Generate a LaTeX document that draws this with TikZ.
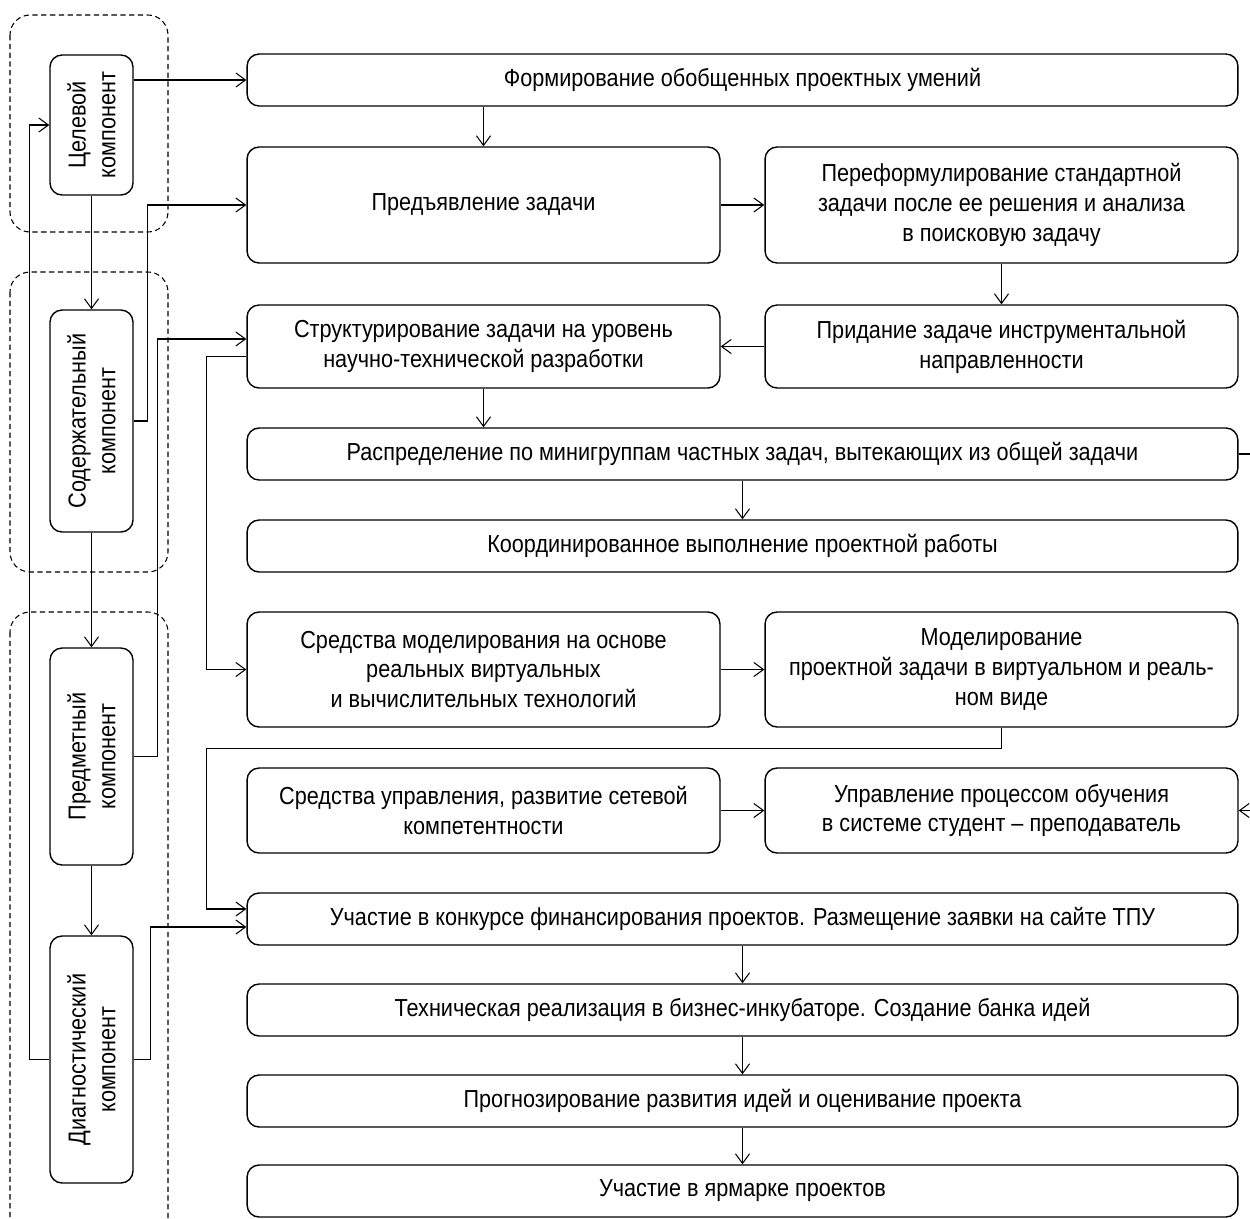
\documentclass[tikz,border=0pt]{standalone}
\usepackage{fontspec}
\setmainfont{Liberation Sans}[FakeStretch=0.88]
\usepackage{tikz}
\usetikzlibrary{positioning}
\usetikzlibrary{calc}
\usetikzlibrary{arrows.meta}
\tikzset{blok/.style={draw, line width=0.8pt, rounded corners=0.24cm, align=center, inner sep=2pt, font=\fontsize{14}{17}\selectfont}}
\tikzset{komp/.style={blok, rotate=90, minimum height=1.66cm}}
\tikzset{strel/.style={-{Straight Barb[length=5.5pt,width=8pt]}, line width=0.6pt}}
\tikzset{gruppa/.style={dashed, dash pattern=on 3pt off 2pt, line width=0.6pt, rounded corners=0.4cm}}

\begin{document}
\begin{tikzpicture}[x=0.02cm, y=-0.02cm]
\useasboundingbox (0,0) rectangle (1250,1218);
% dashed groups
\draw[gruppa] (10,15) rectangle (168,232);
\draw[gruppa] (10,272) rectangle (168,572);
\draw[gruppa] (10,612) rectangle (168,1250);
% components (rotated: north = left, south = right, east = top, west = bottom)
\node[komp, minimum width=2.8cm] (cel) at (91.5,125) {Целевой\\компонент};
\node[komp, minimum width=4.44cm] (soder) at (91.5,421) {Содержательный\\компонент};
\node[komp, minimum width=4.34cm] (predm) at (91.5,756.5) {Предметный\\компонент};
\node[komp, minimum width=4.94cm] (diag) at (91.5,1059.5) {Диагностический\\компонент};
% blocks
\node[blok, minimum width=19.82cm, minimum height=1.04cm] (form) at (742.5,80) {Формирование обобщенных проектных умений};
\node[blok, minimum width=9.46cm, minimum height=2.32cm] (predj) at (483.5,205) {Предъявление задачи};
\node[blok, minimum width=9.46cm, minimum height=2.32cm] (pereform) at (1001.5,205) {Переформулирование стандартной\\задачи после ее решения и анализа\\в поисковую задачу};
\node[blok, minimum width=9.46cm, minimum height=1.66cm] (strukt) at (483.5,346.5) {Структурирование задачи на уровень\\научно-технической разработки};
\node[blok, minimum width=9.46cm, minimum height=1.66cm] (prid) at (1001.5,346.5) {Придание задаче инструментальной\\направленности};
\node[blok, minimum width=19.82cm, minimum height=1.04cm] (raspr) at (742.5,454) {Распределение по минигруппам частных задач, вытекающих из общей задачи};
\node[blok, minimum width=19.82cm, minimum height=1.04cm] (koord) at (742.5,546) {Координированное выполнение проектной работы};
\node[blok, minimum width=9.46cm, minimum height=2.3cm] (sredmod) at (483.5,669.5) {Средства моделирования на основе\\реальных виртуальных\\и вычислительных технологий};
\node[blok, minimum width=9.46cm, minimum height=2.3cm] (model) at (1001.5,669.5) {Моделирование\\проектной задачи в виртуальном и реаль-\\ном виде};
\node[blok, minimum width=9.46cm, minimum height=1.7cm] (sredupr) at (483.5,810.5) {Средства управления, развитие сетевой\\компетентности};
\node[blok, minimum width=9.46cm, minimum height=1.7cm] (upr) at (1001.5,810.5) {Управление процессом обучения\\в системе студент -- преподаватель};
\node[blok, minimum width=19.82cm, minimum height=1.04cm] (konk) at (742.5,919) {Участие в конкурсе финансирования проектов. Размещение заявки на сайте ТПУ};
\node[blok, minimum width=19.82cm, minimum height=1.04cm] (tech) at (742.5,1010) {Техническая реализация в бизнес-инкубаторе. Создание банка идей};
\node[blok, minimum width=19.82cm, minimum height=1.04cm] (progn) at (742.5,1101) {Прогнозирование развития идей и оценивание проекта};
\node[blok, minimum width=19.82cm, minimum height=1.04cm] (yarm) at (742.5,1191) {Участие в ярмарке проектов};
% left side
\draw[strel] (cel.west) -- (soder.east);
\draw[strel] (soder.west) -- (predm.east);
\draw[strel] (predm.west) -- (diag.east);
\draw[strel] (diag.north) -- ++(-20,0) |- (cel.north);
\draw[strel] (cel.south |- form.west) -- (form.west);
\draw[strel] (soder.south) -- ++(14,0) |- (predj.west);
\draw[strel] (predm.south) -- ++(24,0) |- ($(strukt.west)+(0,-7.5)$);
\draw[strel] (diag.south) -- ++(17,0) |- ($(konk.west)+(0,8)$);
% right side
\draw[strel] (form.south -| predj.north) -- (predj.north);
\draw[strel] (predj) -- (pereform);
\draw[strel] (pereform) -- (prid);
\draw[strel] (prid) -- (strukt);
\draw[strel] (strukt.south) -- (strukt.south |- raspr.north);
\draw[strel] (raspr) -- (koord);
\draw[strel] ($(strukt.west)+(0,10)$) -- ++(-40,0) |- (sredmod.west);
\draw[strel] (sredmod) -- (model);
\draw[strel] (model.south) -- ++(0,21) -| ($(konk.west)+(-40,-10)$) -- ($(konk.west)+(0,-10)$);
\draw[strel] (sredupr) -- (upr);
\draw[strel] (raspr.east) -- ++(30,0) |- (upr.east);
\draw[strel] (konk) -- (tech);
\draw[strel] (tech) -- (progn);
\draw[strel] (progn) -- (yarm);
\end{tikzpicture}
\end{document}
